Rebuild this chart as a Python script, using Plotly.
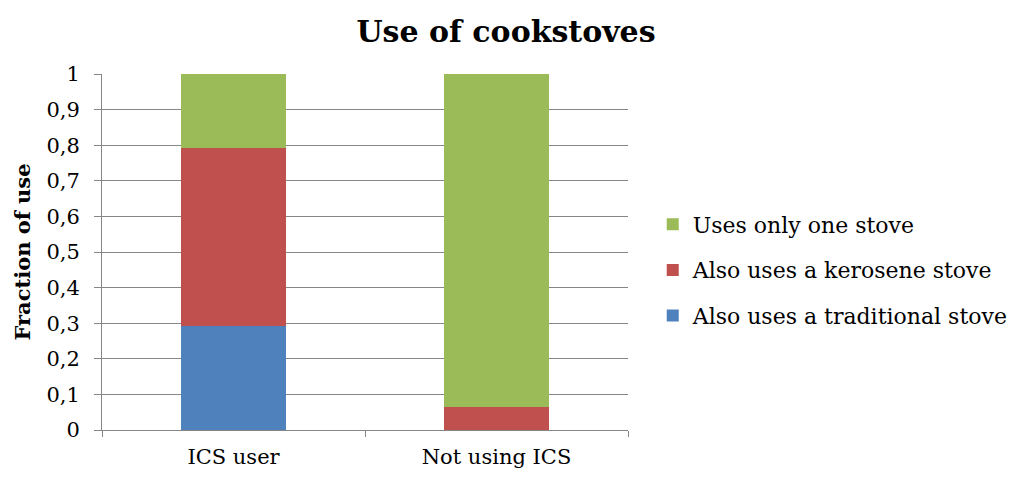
import plotly.graph_objects as go

categories = ["ICS user", "Not using ICS"]
traditional = [0.293, 0.0]
kerosene = [0.498, 0.064]
one_stove = [0.209, 0.936]

series = [
    ("Also uses a traditional stove", traditional, "#4F81BD"),
    ("Also uses a kerosene stove", kerosene, "#C0504D"),
    ("Uses only one stove", one_stove, "#9BBB59"),
]

FONT = "DejaVu Serif"
AXIS_GREY = "#868686"

fig = go.Figure()
for i, (name, vals, color) in enumerate(series):
    # stacked bottom-up, listed top-down in the legend
    fig.add_trace(go.Bar(
        x=categories, y=vals, name=name,
        marker=dict(color=color, line=dict(width=0)),
        width=0.4, legendgroup=f"g{i}", legendrank=1000 - i,
    ))

fig.update_layout(
    width=1012, height=477,
    barmode="stack",
    separators=",.",
    paper_bgcolor="white", plot_bgcolor="white",
    margin=dict(l=102, r=384, t=74, b=47, autoexpand=False),
    font=dict(family=FONT, color="black", size=21),
    title=dict(text="<b>Use of cookstoves</b>", x=0.5, xanchor="center",
               y=0.935, yanchor="middle", font=dict(family=FONT, size=30)),
    legend=dict(xref="container", x=0.645, xanchor="left",
                yref="container", y=0.434, yanchor="middle",
                traceorder="grouped", font=dict(family=FONT, size=22),
                itemwidth=30, tracegroupgap=14),
    showlegend=True,
)
fig.update_yaxes(
    range=[0, 1], dtick=0.1, tick0=0, automargin=False,
    showgrid=True, gridcolor=AXIS_GREY, gridwidth=1,
    showline=True, linecolor=AXIS_GREY, linewidth=1,
    ticks="outside", ticklen=7, tickcolor=AXIS_GREY,
    ticklabelstandoff=10,
    zeroline=False,
    title=dict(text="<b>Fraction of use</b>", font=dict(family=FONT, size=21), standoff=10),
)
fig.update_xaxes(
    automargin=False,
    showline=True, linecolor=AXIS_GREY, linewidth=1,
    ticks="outside", ticklen=6, tickcolor=AXIS_GREY, tickson="boundaries",
    ticklabelstandoff=8,
    showgrid=False,
)

fig.write_html("out.html")
